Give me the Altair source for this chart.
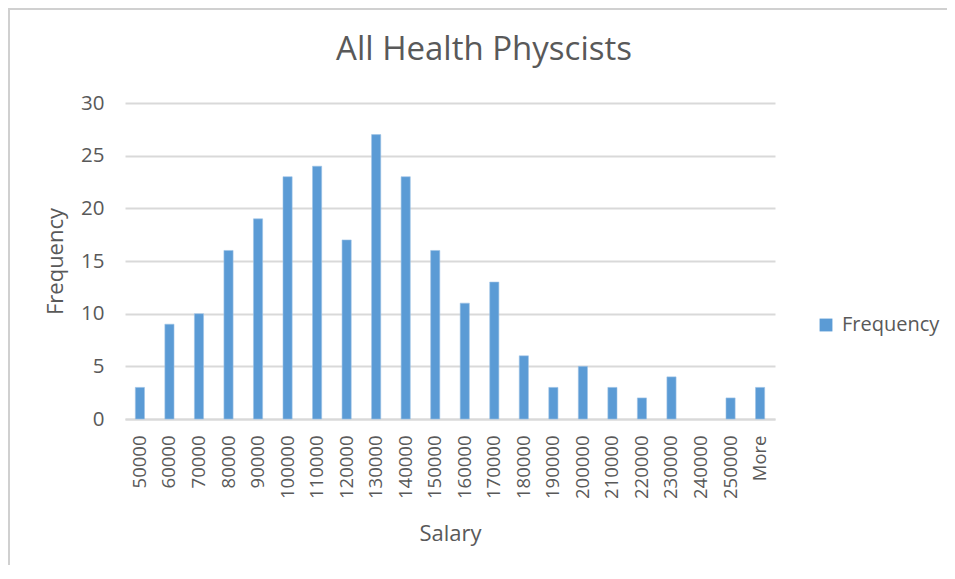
import altair as alt
import pandas as pd

categories = ["50000", "60000", "70000", "80000", "90000", "100000", "110000",
              "120000", "130000", "140000", "150000", "160000", "170000", "180000",
              "190000", "200000", "210000", "220000", "230000", "240000", "250000", "More"]
frequency = [3, 9, 10, 16, 19, 23, 24, 17, 27, 23, 16, 11, 13, 6, 3, 5, 3, 2, 4, 0, 2, 3]
chart_title = "All Health Physcists"

df = pd.DataFrame({"Salary": categories, "Frequency": frequency, "series": "Frequency"})

FONT = "Open Sans"
TXT = "#595959"

bars = alt.Chart(df).mark_bar(stroke="#9dc3e6", strokeWidth=0.6).encode(
    x=alt.X("Salary:N", sort=categories, title="Salary",
            scale=alt.Scale(paddingInner=0.69, paddingOuter=0.35),
            axis=alt.Axis(labelAngle=270, labelAlign="right", labelBaseline="middle",
                          labelPadding=16, ticks=False, domain=True, domainColor="#d9d9d9",
                          domainWidth=1.8, labelFontSize=18.5, labelColor=TXT,
                          titleFontSize=22, titleColor=TXT, titleFontWeight="normal",
                          titleBaseline="alphabetic", titleY=121,
                          labelFont=FONT, titleFont=FONT)),
    y=alt.Y("Frequency:Q", title="Frequency",
            scale=alt.Scale(domain=[0, 30], nice=False),
            axis=alt.Axis(values=[0, 5, 10, 15, 20, 25, 30], ticks=False, domain=False,
                          gridColor="#d9d9d9", gridWidth=1.8, labelPadding=21,
                          labelFontSize=20.5, labelColor=TXT, titleFontSize=22,
                          titleColor=TXT, titleFontWeight="normal",
                          titleBaseline="middle", titleX=-70, titleY=158,
                          labelFont=FONT, titleFont=FONT)),
    color=alt.Color("series:N", title=None,
                    scale=alt.Scale(domain=["Frequency"], range=["#5b9bd5"]),
                    legend=alt.Legend(orient="none", legendX=691, legendY=212,
                                      symbolType="square", symbolSize=165,
                                      symbolStrokeWidth=0, labelFontSize=20,
                                      labelColor=TXT, labelFont=FONT, labelOffset=6)),
    strokeOpacity=alt.condition("datum.Frequency > 0", alt.value(1), alt.value(0)),
)

title_mark = alt.Chart(pd.DataFrame({"t": [chart_title]})).mark_text(
    font=FONT, fontSize=33, color=TXT, align="center", baseline="alphabetic"
).encode(text="t:N", x=alt.value(359), y=alt.value(-43))

frame_df = pd.DataFrame({"f": [1]})
border_top = alt.Chart(frame_df).mark_rule(color="#d0d0d0", strokeWidth=2).encode(
    x=alt.value(-117), x2=alt.value(830), y=alt.value(-94), y2=alt.value(-94))
border_left = alt.Chart(frame_df).mark_rule(color="#d0d0d0", strokeWidth=2).encode(
    x=alt.value(-116), x2=alt.value(-116), y=alt.value(-95), y2=alt.value(470))

chart = alt.layer(border_top, border_left, title_mark, bars).properties(
    width=650, height=316,
    autosize=alt.AutoSizeParams(type="none"),
    padding={"left": 117, "top": 95, "right": 172, "bottom": 146},
    background="white",
).configure_view(stroke=None)

chart.save("out.html", embed_options={"renderer": "svg", "actions": False})
